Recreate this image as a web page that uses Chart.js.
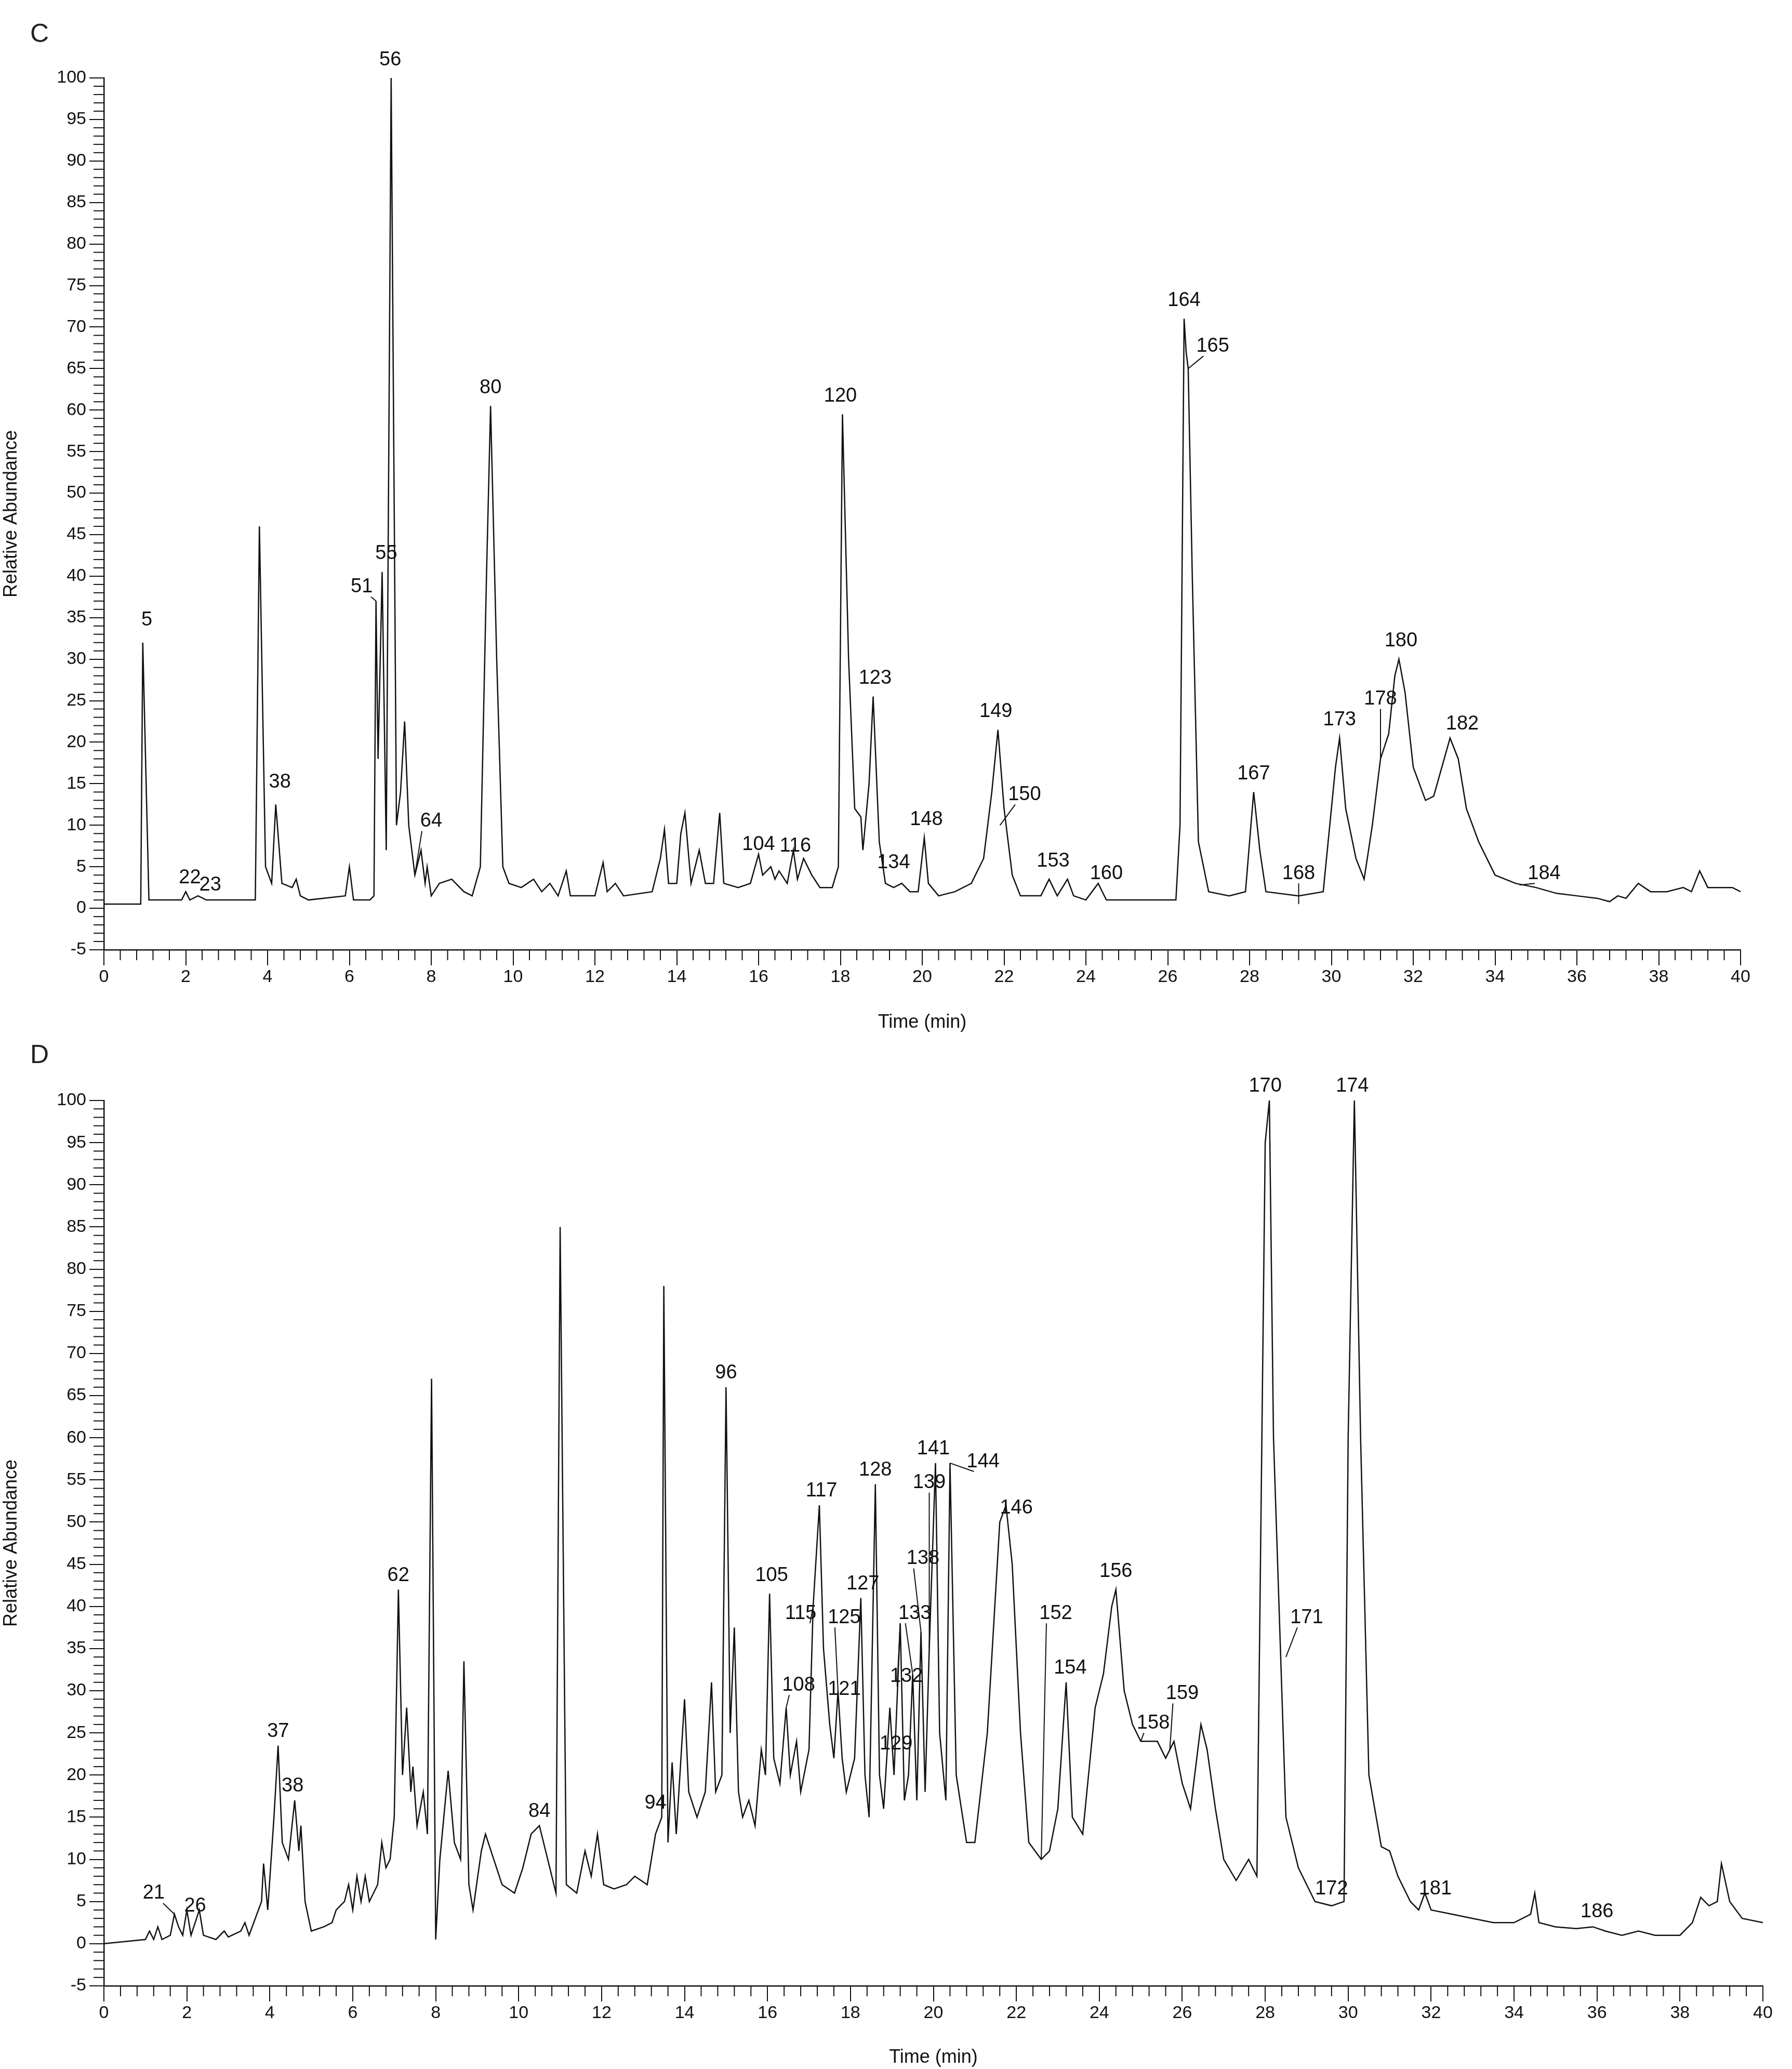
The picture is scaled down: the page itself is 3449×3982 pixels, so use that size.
<!DOCTYPE html>
<html><head><meta charset="utf-8">
<script src="https://cdn.jsdelivr.net/npm/chart.js@4"></script>
<style>
body{margin:0;background:#fff;width:3449px;height:3982px;position:relative;font-family:"Liberation Sans",Arial,sans-serif}
.box{position:absolute;left:0;width:3449px}
.tag{position:absolute;left:58px;font-size:50px;color:#222}
</style></head><body>
<div class="tag" style="top:35px">C</div>
<div class="tag" style="top:2000px">D</div>
<div class="box" style="top:0;height:1990px"><canvas id="cC"></canvas></div>
<div class="box" style="top:1990px;height:1992px"><canvas id="cD"></canvas></div>
<script>
// ── Panel C trace ──
const cTime = [0,0.9,0.95,1.1,1.9,2.0,2.1,2.3,2.5,3.7,3.8,3.95,4.1,4.2,4.35,4.6,4.7,4.8,5.0,5.9,6.0,6.1,6.5,6.6,6.65,6.7,6.8,6.9,7.02,7.15,7.25,7.35,7.45,7.6,7.75,7.85,7.9,8.0,8.2,8.5,8.8,9.0,9.2,9.35,9.45,9.6,9.75,9.9,10.2,10.5,10.7,10.9,11.1,11.3,11.4,12.0,12.2,12.3,12.5,12.7,13.4,13.6,13.7,13.8,14.0,14.1,14.2,14.35,14.55,14.7,14.9,15.05,15.15,15.5,15.8,16.0,16.1,16.3,16.4,16.5,16.7,16.85,16.95,17.1,17.3,17.5,17.8,17.95,18.05,18.2,18.35,18.5,18.55,18.7,18.8,18.95,19.1,19.3,19.5,19.7,19.9,20.05,20.15,20.4,20.8,21.2,21.5,21.7,21.85,22.0,22.2,22.4,22.9,23.1,23.3,23.55,23.7,24.0,24.3,24.5,26.2,26.3,26.4,26.45,26.5,26.6,26.75,27.0,27.5,27.9,28.1,28.25,28.4,29.2,29.8,30.1,30.2,30.35,30.6,30.8,31.0,31.2,31.4,31.55,31.65,31.8,32.0,32.3,32.5,32.7,32.9,33.1,33.3,33.6,34.0,34.5,35.0,35.5,36.0,36.5,36.8,37.0,37.2,37.5,37.8,38.2,38.6,38.8,39.0,39.2,39.5,39.8,40.0];
const cAbund = [0.5,0.5,32,1,1,2,1,1.5,1,1,46,5,3,12.5,3,2.5,3.5,1.5,1,1.5,5,1,1,1.5,37,18,40.5,7,100,10,14,22.5,10,4,7,3,5,1.5,3,3.5,2,1.5,5,40,60.5,30,5,3,2.5,3.5,2,3,1.5,4.5,1.5,1.5,5.5,2,3,1.5,2,6,9.5,3,3,9,11.5,3,7,3,3,11.5,3,2.5,3,6.5,4,5,3.5,4.5,3,7,3.5,6,4,2.5,2.5,5,59.5,30,12,11,7,15,25.5,8,3,2.5,3,2,2,8.5,3,1.5,2,3,6,14,21.5,12,4,1.5,1.5,3.5,1.5,3.5,1.5,1,3,1,1,10,71,67,65,40,8,2,1.5,2,14,7,2,1.5,2,17,20.5,12,6,3.5,10,18,21,28,30,26,17,13,13.5,17,20.5,18,12,8,4,3,2.5,1.8,1.5,1.2,0.8,1.5,1.2,3,2,2,2.5,2,4.5,2.5,2.5,2.5,2];
// labels: text, text x, text y, leader end x, leader end y (null = no leader)
const cLabels = [
  ['5',1.05,33.5,null,null],['22',2.1,2.5,null,null],['23',2.6,1.6,null,null],['38',4.3,14,null,null],
  ['51',6.3,37.5,6.65,37],['55',6.9,41.5,null,null],['56',7.0,101,null,null],['64',8.0,9.3,7.6,4],
  ['80',9.45,61.5,null,null],['104',16.0,6.5,null,null],['116',16.9,6.3,null,null],['120',18.0,60.5,null,null],
  ['123',18.85,26.5,null,null],['134',19.3,4.3,null,null],['148',20.1,9.5,null,null],['149',21.8,22.5,null,null],
  ['150',22.5,12.5,21.9,10],['153',23.2,4.5,null,null],['160',24.5,3,null,null],['164',26.4,72,null,null],
  ['165',27.1,66.5,26.5,65],['167',28.1,15,null,null],['168',29.2,3,29.2,0.5],['173',30.2,21.5,null,null],
  ['178',31.2,24,31.2,18],['180',31.7,31,null,null],['182',33.2,21,null,null],['184',35.2,3,34.6,2.8]
];

// ── Panel D trace ──
const dTime = [0,1.0,1.1,1.2,1.3,1.4,1.6,1.7,1.8,1.9,2.0,2.1,2.3,2.4,2.7,2.9,3.0,3.3,3.4,3.5,3.8,3.85,3.95,4.1,4.2,4.3,4.45,4.6,4.7,4.75,4.85,5.0,5.3,5.5,5.6,5.8,5.9,6.0,6.1,6.2,6.3,6.4,6.6,6.7,6.8,6.9,7.0,7.1,7.2,7.3,7.4,7.45,7.55,7.7,7.8,7.9,8.0,8.1,8.3,8.45,8.6,8.68,8.8,8.9,9.1,9.2,9.4,9.6,9.9,10.1,10.3,10.5,10.7,10.9,11.0,11.15,11.4,11.6,11.75,11.9,12.05,12.3,12.6,12.8,13.1,13.3,13.45,13.5,13.6,13.7,13.8,14.0,14.1,14.3,14.5,14.65,14.75,14.9,15.0,15.1,15.2,15.3,15.4,15.55,15.7,15.85,15.95,16.05,16.15,16.3,16.45,16.55,16.7,16.8,17.0,17.1,17.25,17.35,17.5,17.6,17.7,17.8,17.9,18.1,18.25,18.35,18.45,18.6,18.7,18.8,18.95,19.05,19.2,19.3,19.4,19.5,19.6,19.7,19.8,19.9,20.05,20.15,20.3,20.4,20.55,20.8,21.0,21.3,21.6,21.75,21.9,22.1,22.3,22.6,22.8,23.0,23.2,23.35,23.6,23.9,24.1,24.3,24.4,24.6,24.8,25.0,25.4,25.6,25.8,26.0,26.2,26.45,26.6,26.8,27.0,27.3,27.6,27.8,28.0,28.1,28.2,28.5,28.8,29.2,29.6,29.9,30.0,30.15,30.3,30.5,30.8,31.0,31.2,31.5,31.7,31.85,32.0,32.5,33.0,33.5,34.0,34.4,34.5,34.6,35.0,35.5,35.9,36.2,36.6,37.0,37.4,38.0,38.3,38.5,38.7,38.9,39.0,39.2,39.5,40.0];
const dAbund = [0,0.5,1.5,0.5,2,0.5,1,3.5,2,1,4,1,4,1,0.5,1.5,0.8,1.5,2.5,1,5,9.5,4,15,23.5,12,10,17,11,14,5,1.5,2,2.5,4,5,7,4,8,5,8,5,7,12,9,10,15,42,20,28,18,21,14,18,13,67,0.5,10,20.5,12,10,33.5,7,4,11,13,10,7,6,9,13,14,10,6,85,7,6,11,8,13,7,6.5,7,8,7,13,15,78,12,21.5,13,29,18,15,18,31,18,20,66,25,37.5,18,15,17,14,23,20,41.5,22,19,28,20,24,18,23,40,52,35,26,22,30,22,18,22,41,20,15,54.5,20,16,28,20,38,17,20,32,17,37,18,35,57,25,17,57,20,12,12,25,50,52,45,25,12,10,11,16,31,15,13,28,32,40,42,30,26,24,24,22,24,19,16,26,23,16,10,7.5,10,8,95,100,60,15,9,5,4.5,5,60,100,60,20,11.5,11,8,5,4,6,4,3.5,3,2.5,2.5,3.5,6,2.5,2,1.8,2,1.5,1,1.5,1,1,2.5,5.5,4.5,5,9.5,5,3,2.5];
const dLabels = [
  ['21',1.2,4.8,1.7,3.5],['26',2.2,3.3,null,null],['37',4.2,24,null,null],['38',4.55,17.5,null,null],
  ['62',7.1,42.5,null,null],['84',10.5,14.5,null,null],['94',13.3,15.5,null,null],['96',15.0,66.5,null,null],
  ['105',16.1,42.5,null,null],['108',16.75,29.5,16.45,28],['115',16.8,38,17.1,40],['117',17.3,52.5,null,null],
  ['121',17.85,29,null,null],['125',17.85,37.5,17.7,30],['127',18.3,41.5,null,null],['128',18.6,55,null,null],
  ['129',19.1,22.5,null,null],['132',19.35,30.5,19.2,38],['133',19.55,38,19.5,32],['138',19.75,44.5,19.7,37],
  ['139',19.9,53.5,19.9,35],['141',20.0,57.5,null,null],['144',21.2,56,20.4,57],['146',22.0,50.5,null,null],
  ['152',22.95,38,22.6,10],['154',23.3,31.5,null,null],['156',24.4,43,null,null],['158',25.3,25,25.0,24],
  ['159',26.0,28.5,25.7,23],['170',28.0,100.5,null,null],['171',29.0,37.5,28.5,34],['172',29.6,5.3,null,null],
  ['174',30.1,100.5,null,null],['181',32.1,5.3,null,null],['186',36.0,2.6,null,null]
];

const FONT = '"Liberation Sans", Arial, sans-serif';

const peakLabels = {
  id: 'peakLabels',
  afterDatasetsDraw(chart, args, opts) {
    const {ctx, scales: {x, y}} = chart;
    ctx.save();
    ctx.font = '38px ' + FONT;
    ctx.fillStyle = '#111';
    ctx.strokeStyle = '#111';
    ctx.lineWidth = 2;
    ctx.textAlign = 'center';
    ctx.textBaseline = 'bottom';
    opts.list.forEach(([t, tx, ty, lx, ly]) => {
      const px = x.getPixelForValue(tx), py = y.getPixelForValue(ty);
      ctx.fillText(t, px, py);
      if (lx !== null) {
        ctx.beginPath();
        ctx.moveTo(px + (lx > tx ? 18 : lx < tx ? -18 : 0), py);
        ctx.lineTo(x.getPixelForValue(lx), y.getPixelForValue(ly));
        ctx.stroke();
      }
    });
    ctx.restore();
  }
};

// minor ticks: x every 0.4 min, y every 1 unit
const minorTicks = {
  id: 'minorTicks',
  afterDraw(chart) {
    const {ctx, scales: {x, y}} = chart;
    ctx.save();
    ctx.strokeStyle = '#111';
    ctx.lineWidth = 2;
    for (let i = 1; i < 100; i++) {
      if (i % 5 === 0) continue;
      const px = x.getPixelForValue(i * 0.4);
      ctx.beginPath(); ctx.moveTo(px, y.bottom); ctx.lineTo(px, y.bottom + 20); ctx.stroke();
    }
    for (let v = -4; v < 100; v++) {
      if (v % 5 === 0) continue;
      const py = y.getPixelForValue(v);
      ctx.beginPath(); ctx.moveTo(x.left, py); ctx.lineTo(x.left - 20, py); ctx.stroke();
    }
    ctx.restore();
  }
};

function makeChart(id, times, vals, labels, pad, xH) {
  return new Chart(document.getElementById(id), {
    type: 'line',
    data: { datasets: [{ data: times.map((t, i) => ({x: t, y: vals[i]})), borderColor: '#111', borderWidth: 2.5, pointRadius: 0, tension: 0 }] },
    options: {
      responsive: true, maintainAspectRatio: false, animation: false,
      layout: { padding: pad },
      plugins: { legend: { display: false }, tooltip: { enabled: false }, peakLabels: { list: labels } },
      scales: {
        x: {
          type: 'linear', min: 0, max: 40,
          afterFit: s => { s.height = xH; },
          ticks: { stepSize: 2, color: '#111', font: { size: 34, family: FONT }, maxRotation: 0, padding: 2 },
          grid: { drawOnChartArea: false, color: '#111', tickLength: 30, lineWidth: 2 },
          border: { color: '#111', width: 2.5 },
          title: { display: true, text: 'Time (min)', color: '#111', font: { size: 36, family: FONT }, padding: 0 }
        },
        y: {
          min: -5, max: 100,
          afterFit: s => { s.width = 200; },
          ticks: { stepSize: 5, color: '#111', font: { size: 34, family: FONT }, padding: 6 },
          grid: { drawOnChartArea: false, color: '#111', tickLength: 28, lineWidth: 2 },
          border: { color: '#111', width: 2.5 },
          title: { display: true, text: 'Relative Abundance', color: '#111', font: { size: 36, family: FONT }, padding: 0 }
        }
      }
    },
    plugins: [peakLabels, minorTicks]
  });
}

makeChart('cC', cTime, cAbund, cLabels, { top: 150, right: 99, left: 0, bottom: 0 }, 162);
makeChart('cD', dTime, dAbund, dLabels, { top: 128, right: 56, left: 0, bottom: 0 }, 160);
</script>
</body></html>
